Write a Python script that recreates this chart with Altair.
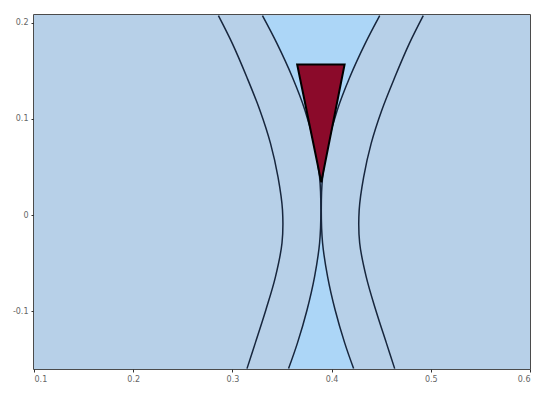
import altair as alt
import pandas as pd

# y positions shared by the four curves
ys = [0.2073, 0.1782, 0.1430, 0.1088, 0.0746, 0.0394, 0.0052, -0.0290, -0.0642, -0.0984, -0.1326, -0.1596]
outer_left = [0.2859, 0.3000, 0.3147, 0.3278, 0.3384, 0.3460, 0.3505, 0.3500, 0.3434, 0.3338, 0.3232, 0.3147]
outer_right = [0.4924, 0.4783, 0.4636, 0.4505, 0.4399, 0.4323, 0.4278, 0.4283, 0.4349, 0.4444, 0.4551, 0.4636]
inner_left = [0.3303, 0.3450, 0.3606, 0.3732, 0.3823, 0.3879, 0.3892, 0.3879, 0.3828, 0.3753, 0.3657, 0.3566]
inner_right = [0.4485, 0.4338, 0.4182, 0.4056, 0.3965, 0.3909, 0.3896, 0.3909, 0.3960, 0.4035, 0.4131, 0.4222]

# triangle: tip and top edge
tri_y = [0.0342, 0.1565]
tri_left = [0.3896, 0.3653]
tri_right = [0.3896, 0.4131]

x_ticks = [0.1, 0.2, 0.3, 0.4, 0.5, 0.6]
y_ticks = [-0.1, 0.0, 0.1, 0.2]

band = pd.DataFrame({"y": ys, "xl": inner_left, "xr": inner_right}).sort_values("y")

rows = []
for name, xs in [("outer_left", outer_left), ("outer_right", outer_right),
                 ("inner_left", inner_left), ("inner_right", inner_right)]:
    for x, y in zip(xs, ys):
        rows.append({"curve": name, "x": x, "y": y})
curves = pd.DataFrame(rows)

tri = pd.DataFrame({"y": tri_y, "xl": tri_left, "xr": tri_right})

xs_scale = alt.Scale(domain=[0.1, 0.6], nice=False, zero=False)
ys_scale = alt.Scale(domain=[-0.16, 0.208], nice=False, zero=False)

lab = "datum.value == 0 ? '0' : toString(round(datum.value * 10) / 10)"
x_axis = alt.Axis(values=x_ticks, title=None, grid=False, domain=False, labelExpr=lab,
                  labelFontSize=8, labelColor="#666666", tickColor="#333333", tickSize=3,
                  labelPadding=3)
y_axis = alt.Axis(values=y_ticks, title=None, grid=False, domain=False, labelExpr=lab,
                  labelFontSize=8, labelColor="#666666", tickColor="#333333", tickSize=3,
                  labelPadding=3)

bg = alt.Chart(pd.DataFrame({"a": [0]})).mark_rect(color="#b7d0e8").encode(
    x=alt.value(0), x2=alt.value(496), y=alt.value(0), y2=alt.value(354)
)

area = alt.Chart(band).mark_area(orient="horizontal", interpolate="catmull-rom",
                                 color="#acd6f7", clip=True).encode(
    y=alt.Y("y:Q", scale=ys_scale, axis=y_axis),
    x=alt.X("xl:Q", scale=xs_scale, axis=x_axis),
    x2="xr:Q",
)

lines = alt.Chart(curves).mark_line(interpolate="catmull-rom", color="#17263d",
                                    strokeWidth=1.5, clip=True).encode(
    x=alt.X("x:Q", scale=xs_scale),
    y=alt.Y("y:Q", scale=ys_scale),
    detail="curve:N",
    order=alt.Order("y:Q"),
)

triangle = alt.Chart(tri).mark_area(orient="horizontal", interpolate="linear",
                                    color="#8b0a2a", stroke="#000000", strokeWidth=2,
                                    strokeJoin="miter", clip=True).encode(
    y=alt.Y("y:Q", scale=ys_scale),
    x=alt.X("xl:Q", scale=xs_scale),
    x2="xr:Q",
)

chart = alt.layer(bg, area, lines, triangle).properties(
    width=496, height=354, autosize="none",
    padding={"left": 26, "top": 7, "right": 12, "bottom": 22},
).configure(
    font="DejaVu Sans"
).configure_view(
    fill="#b7d0e8", stroke="#111111", strokeWidth=1.5
)

chart.save("out.html", embed_options={"renderer": "svg", "actions": False})
